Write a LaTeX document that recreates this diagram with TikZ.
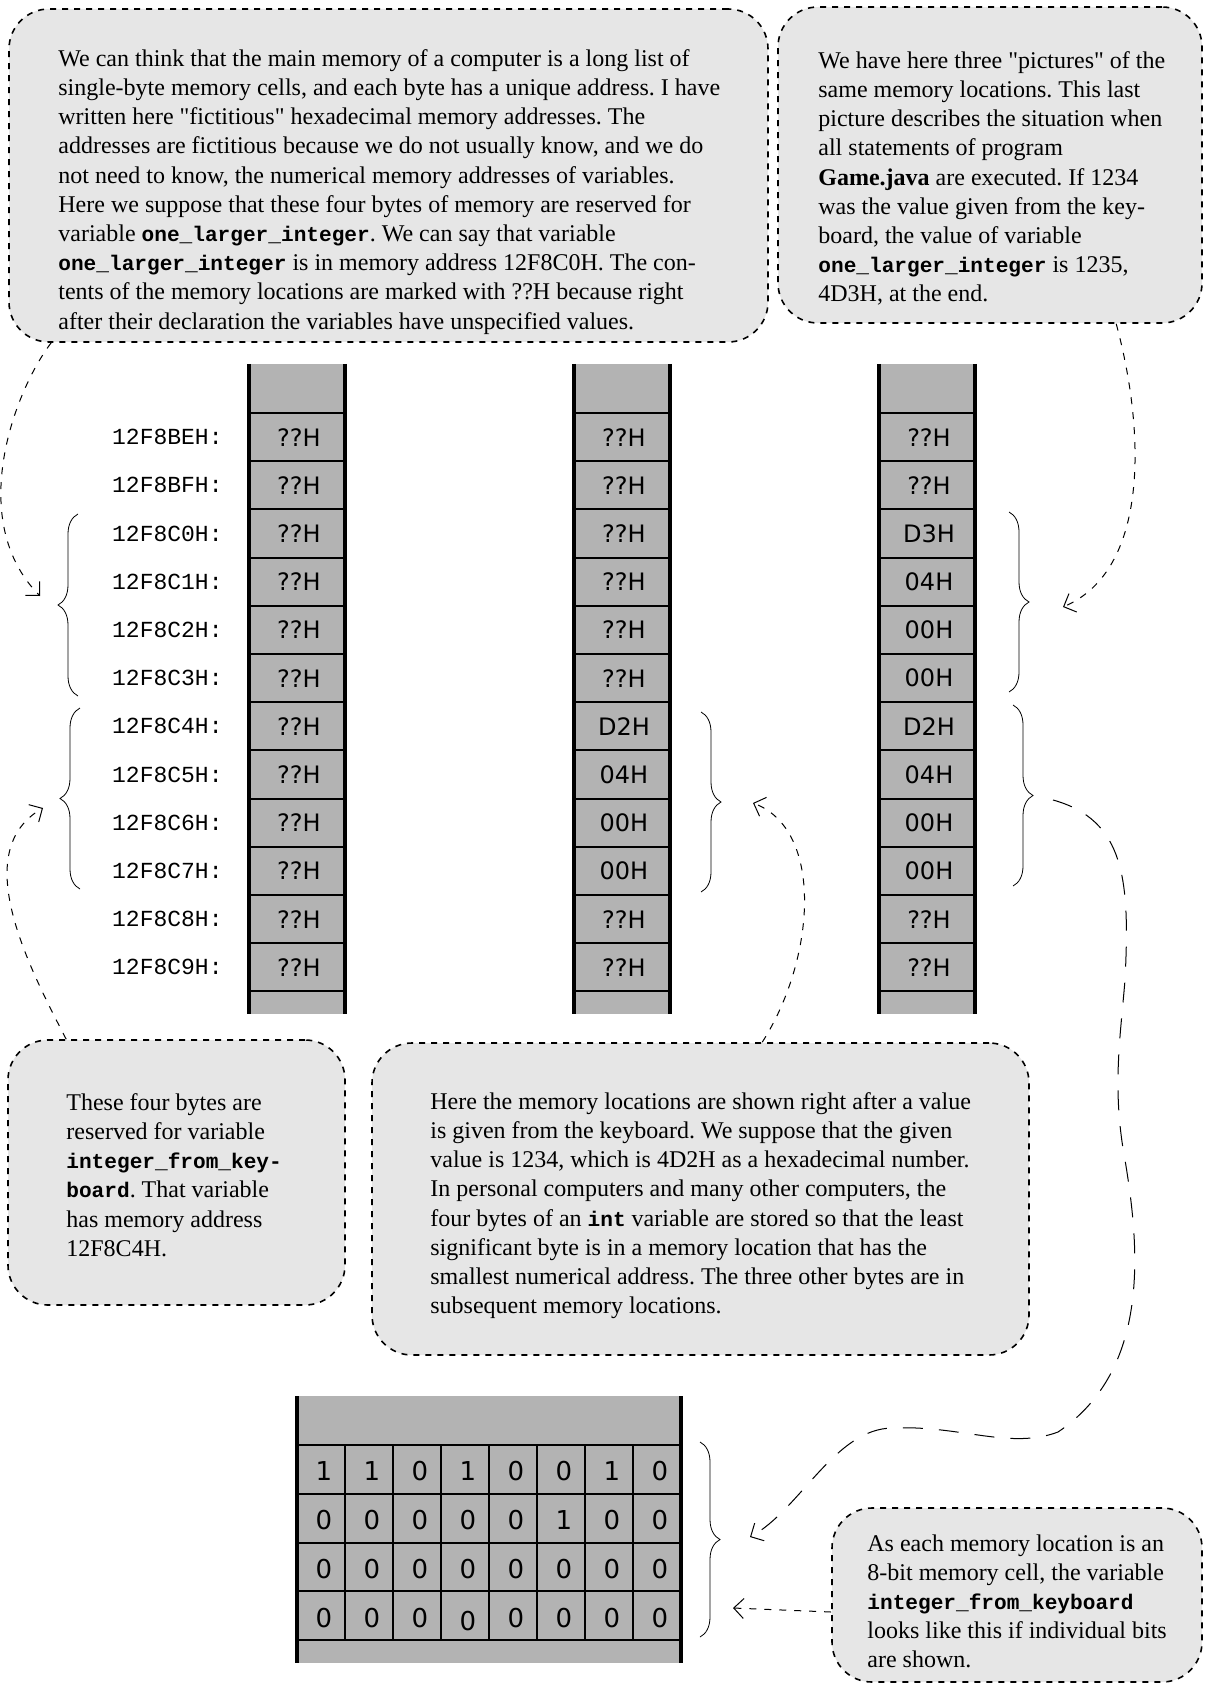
\documentclass[tikz,border=0pt]{standalone}
\usepackage{fontspec}
\setmainfont{Liberation Serif}
\setmonofont{Liberation Mono}[Scale=0.88]
\newfontfamily\cellfont{DejaVu Sans}
\newfontfamily\addrfont{Liberation Mono}
\usetikzlibrary{arrows.meta,decorations.pathreplacing,fit,calc}
\frenchspacing

\definecolor{notegray}{RGB}{230,230,230}
\definecolor{cellgray}{RGB}{179,179,179}

\newcommand{\vname}[1]{\texttt{\bfseries #1}}

\tikzset{
  memo/.style={draw, dash pattern=on 3pt off 3pt, line width=0.8pt, fill=notegray, rounded corners=20pt, inner sep=0pt},
  memotext/.style={anchor=north west, inner sep=0pt, align=left, font=\fontsize{12}{14.6}\selectfont},
  cellval/.style={font=\cellfont\fontsize{12}{12}\selectfont},
  addr/.style={anchor=east, inner sep=0pt, font=\addrfont\fontsize{11.5}{12}\selectfont},
  bitval/.style={font=\cellfont\fontsize{13}{13}\selectfont},
  bracel/.style={decorate, decoration={brace, amplitude=10pt}, line width=0.4pt},
  pointer/.style={dash pattern=on 3.5pt off 4pt, line width=0.5pt, -{Straight Barb[length=5pt,width=10pt]}},
  longpointer/.style={dash pattern=on 10pt off 8pt, line width=0.5pt, -{Straight Barb[length=5pt,width=10pt]}}
}

\begin{document}
\begin{tikzpicture}[x=0.5pt,y=0.5pt,yscale=-1,xscale=1]
\useasboundingbox (0,0) rectangle (1204,1684);

%Notes [boxes]
\node[memo, fit={(9,9) (768,342)}] (notetl) {};
\node[memo, fit={(778,7) (1202,323)}] (notetr) {};
\node[memo, fit={(8,1040) (345,1305)}] (notebl) {};
\node[memo, fit={(372,1043) (1029,1355)}] (notebm) {};
\node[memo, fit={(832,1508) (1202,1682)}] (notebr) {};

%Note texts
\node[memotext] (txttl) at (58,49) {We can think that the main memory of a computer is a long list of\\
single-byte memory cells, and each byte has a unique address. I have\\
written here \textquotedbl fictitious\textquotedbl{} hexadecimal memory addresses. The\\
addresses are fictitious because we do not usually know, and we do\\
not need to know, the numerical memory addresses of variables.\\
Here we suppose that these four bytes of memory are reserved for\\
variable \vname{one\_larger\_integer}. We can say that variable\\
\vname{one\_larger\_integer} is in memory address 12F8C0H. The con-\\
tents of the memory locations are marked with ??H because right\\
after their declaration the variables have unspecified values.};
\node[memotext] (txttr) at (818,51) {We have here three \textquotedbl pictures\textquotedbl{} of the\\
same memory locations. This last\\
picture describes the situation when\\
all statements of program\\
\textbf{Game.java} are executed. If 1234\\
was the value given from the key-\\
board, the value of variable\\
\vname{one\_larger\_integer} is 1235,\\
4D3H, at the end.};
\node[memotext] (txtbl) at (66,1093) {These four bytes are\\
reserved for variable\\
\vname{integer\_from\_key-}\\
\vname{board}. That variable\\
has memory address\\
12F8C4H.};
\node[memotext] (txtbm) at (430,1092) {Here the memory locations are shown right after a value\\
is given from the keyboard. We suppose that the given\\
value is 1234, which is 4D2H as a hexadecimal number.\\
In personal computers and many other computers, the\\
four bytes of an \vname{int} variable are stored so that the least\\
significant byte is in a memory location that has the\\
smallest numerical address. The three other bytes are in\\
subsequent memory locations.};
\node[memotext] (txtbr) at (867,1534) {As each memory location is an\\
8-bit memory cell, the variable\\
\vname{integer\_from\_keyboard}\\
looks like this if individual bits\\
are shown.};

%Memory columns
\foreach \colx in {249,574,879} {
  \fill[cellgray] (\colx,364) rectangle (\colx+96,1014);
  \foreach \k in {0,...,12}
    \draw[line width=1pt] (\colx,{413+48.2*\k}) -- (\colx+96,{413+48.2*\k});
  \draw[line width=1.6pt] (\colx,364) -- (\colx,1014) (\colx+96,364) -- (\colx+96,1014);
}

%Addresses
\foreach \a [count=\r] in {12F8BEH:,12F8BFH:,12F8C0H:,12F8C1H:,12F8C2H:,12F8C3H:,12F8C4H:,12F8C5H:,12F8C6H:,12F8C7H:,12F8C8H:,12F8C9H:}
  \node[addr] (adr\r) at (223,{437.1+48.2*(\r-1)}) {\a};

%Cell contents
\foreach \v [count=\r] in {??H,??H,??H,??H,??H,??H,??H,??H,??H,??H,??H,??H}
  \node[cellval] (a\r) at (299,{437.1+48.2*(\r-1)}) {\v};
\foreach \v [count=\r] in {??H,??H,??H,??H,??H,??H,D2H,04H,00H,00H,??H,??H}
  \node[cellval] (b\r) at (624,{437.1+48.2*(\r-1)}) {\v};
\foreach \v [count=\r] in {??H,??H,D3H,04H,00H,00H,D2H,04H,00H,00H,??H,??H}
  \node[cellval] (c\r) at (929,{437.1+48.2*(\r-1)}) {\v};

%Bit grid
\fill[cellgray] (297,1396) rectangle (681,1663);
\foreach \k in {0,...,4}
  \draw[line width=1pt] (297,{1445+48.75*\k}) -- (681,{1445+48.75*\k});
\foreach \k in {1,...,7}
  \draw[line width=0.8pt] ({297+48*\k},1445) -- ({297+48*\k},1640);
\draw[line width=1.6pt] (297,1396) -- (297,1663) (681,1396) -- (681,1663);
\foreach \row [count=\i] in {{1,1,0,1,0,0,1,0},{0,0,0,0,0,1,0,0},{0,0,0,0,0,0,0,0},{0,0,0,0,0,0,0,0}}
  \foreach \b [count=\j] in \row
    \node[bitval] (bit\i\j) at ({297+48*(\j-0.5)+3},{1445+48.75*(\i-0.5)+2+3*(\i==4)*(\j==4)}) {\b};

%Braces
\draw[bracel] (78,696) -- (78,514);
\draw[bracel] (80,889) -- (80,708);
\draw[bracel] (701,712) -- (701,892);
\draw[bracel] (1009,512) -- (1009,692);
\draw[bracel] (1013,705) -- (1013,886);
\draw[bracel] (700,1442) -- (700,1637);

%Pointer ends
\coordinate (ptrA) at (40,596);
\coordinate (ptrB) at (43,808);
\coordinate (ptrC) at (753,803);
\coordinate (ptrD) at (1063,607);
\coordinate (startE) at (1053,800);
\coordinate (ptrE) at (750,1537);
\coordinate (ptrF) at (733,1608);

%Pointers
\draw[pointer] ($(notetl.south west)+(43,0)$) .. controls (15,390) and (-35,520) .. (ptrA);
\draw[pointer] ($(notebl.north west)+(59,0)$) .. controls (25,960) and (-30,850) .. (ptrB);
\draw[pointer] ($(notebm.north west)+(391,0)$) .. controls (815,960) and (825,830) .. (ptrC);
\draw[pointer] ($(notetr.south west)+(339,0)$) .. controls (1145,430) and (1150,570) .. (ptrD);
\draw[longpointer] (startE) .. controls (1125,820) and (1130,880) .. (1125,980)
  .. controls (1120,1040) and (1112,1090) .. (1125,1160)
  .. controls (1140,1250) and (1150,1370) .. (1058,1432)
  .. controls (1010,1450) and (960,1425) .. (893,1428)
  .. controls (835,1428) and (800,1510) .. (ptrE);
\draw[pointer] ($(notebr.west)+(0,17)$) -- (ptrF);

\end{tikzpicture}
\end{document}
